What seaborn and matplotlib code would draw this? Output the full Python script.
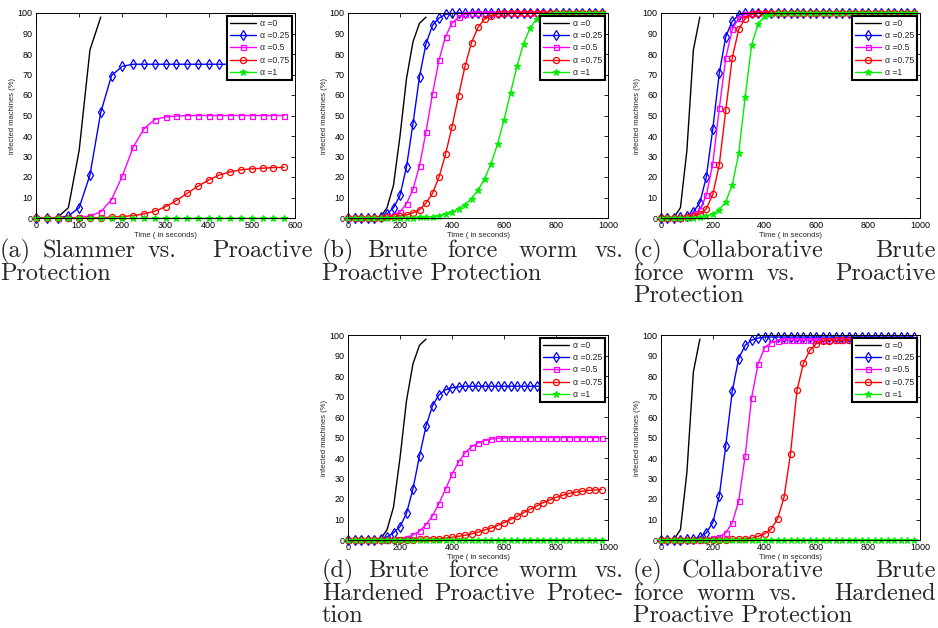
import matplotlib
matplotlib.use("Agg")
import matplotlib.pyplot as plt
import seaborn as sns

W, H = 938, 628

# sample times (seconds)
t_a = list(range(0, 600, 25))
t_full = list(range(0, 1000, 25))
t_black_fast = [0, 25, 50, 75, 100, 125, 150]
t_black_slow = [0, 25, 50, 75, 100, 125, 150, 175, 200, 225, 250, 275, 300]

black_fast = [0, 0, 0.3, 5, 33, 82, 98]
black_slow = [0, 0, 0, 0, 0, 0.5, 5, 16, 40, 68, 86, 95, 98]

# (a) Slammer vs. Proactive Protection
a_025 = [0, 0, 0, 1, 5, 21, 51.5, 69.5, 74, 75, 75, 75, 75, 75, 75, 75, 75, 75, 75, 75, 75, 75, 75, 75]
a_05 = [0, 0, 0, 0, 0.3, 1, 3, 9, 20.5, 34.5, 43.5, 48, 49.3, 49.7, 50, 50, 50, 50, 50, 50, 50, 50, 50, 50]
a_075 = [0, 0, 0, 0, 0, 0, 0.2, 0.4, 0.7, 1.2, 2, 3.3, 5.5, 8.5, 12, 15.5, 18.5, 21, 22.5, 23.5, 24, 24.3,
         24.6, 24.7]
a_1 = [0] * 24

# (b) Brute force worm vs. Proactive Protection
b_025 = [0, 0, 0, 0, 0, 0.5, 2, 5, 11, 25, 46, 69, 85, 94, 97.5, 99.3, 99.8, 100, 100, 100, 100, 100, 100,
         100, 100, 100, 100, 100, 100, 100, 100, 100, 100, 100, 100, 100, 100, 100, 100, 100]
b_05 = [0, 0, 0, 0, 0.1, 0.3, 0.8, 1.5, 3, 7, 14, 25.5, 42, 60.5, 77, 88.5, 95, 98, 99.3, 99.8, 100, 100,
        100, 100, 100, 100, 100, 100, 100, 100, 100, 100, 100, 100, 100, 100, 100, 100, 100, 100]
b_075 = [0, 0, 0, 0, 0.1, 0.2, 0.3, 0.5, 1, 1.5, 2.5, 4, 7.3, 12, 20, 31, 44.5, 59.5, 74, 85.5, 93, 97,
         98.7, 99.5, 99.8, 100, 100, 100, 100, 100, 100, 100, 100, 100, 100, 100, 100, 100, 100, 100]
b_1 = [0, 0, 0, 0, 0, 0, 0, 0.1, 0.1, 0.2, 0.2, 0.3, 0.5, 0.7, 1.2, 2, 3, 4.5, 6.5, 9.5, 13.5, 19, 26.5,
       36, 47.8, 61, 74, 85, 92.5, 97, 99, 99.7, 100, 100, 100, 100, 100, 100, 100, 100]

# (c) Collaborative brute force worm vs. Proactive Protection
c_025 = [0, 0, 0, 0.5, 1, 3, 7.5, 20, 43.5, 70.5, 88.5, 96, 99, 99.8, 100, 100, 100, 100, 100, 100, 100,
         100, 100, 100, 100, 100, 100, 100, 100, 100, 100, 100, 100, 100, 100, 100, 100, 100, 100, 100]
c_05 = [0, 0, 0, 0.2, 0.5, 2, 4, 11, 26.5, 53.5, 78, 92, 97.5, 99.3, 100, 100, 100, 100, 100, 100, 100,
        100, 100, 100, 100, 100, 100, 100, 100, 100, 100, 100, 100, 100, 100, 100, 100, 100, 100, 100]
c_075 = [0, 0, 0, 0.1, 0.3, 1, 2, 4.5, 11.5, 26, 52.5, 78, 92, 97.3, 99.3, 100, 100, 100, 100, 100, 100,
         100, 100, 100, 100, 100, 100, 100, 100, 100, 100, 100, 100, 100, 100, 100, 100, 100, 100, 100]
c_1 = [0, 0, 0, 0, 0.1, 0.2, 0.3, 1, 2, 4, 8, 16, 31.5, 59, 84.5, 94.5, 98.5, 99.5, 100, 100, 100, 100,
       100, 100, 100, 100, 100, 100, 100, 100, 100, 100, 100, 100, 100, 100, 100, 100, 100, 100]

# (d) Brute force worm vs. Hardened Proactive Protection
d_025 = [0, 0, 0, 0, 0.2, 0.5, 1.5, 3.5, 6.5, 13, 25, 41, 55.5, 65.5, 70.8, 73.3, 74.3, 74.7, 75, 75, 75,
         75, 75, 75, 75, 75, 75, 75, 75, 75, 75, 75, 75, 75, 75, 75, 75, 75, 75, 75]
d_05 = [0, 0, 0, 0, 0, 0.1, 0.2, 0.3, 0.5, 1.2, 2.5, 4.3, 7.5, 11.8, 17.8, 24.8, 32, 38, 42.5, 45.5, 47.3,
        48.5, 49.2, 49.6, 49.8, 50, 50, 50, 50, 50, 50, 50, 50, 50, 50, 50, 50, 50, 50, 50]
d_075 = [0, 0, 0, 0, 0, 0, 0.1, 0.1, 0.1, 0.2, 0.2, 0.3, 0.3, 0.5, 0.7, 1, 1.3, 1.8, 2.3, 3, 3.8, 4.8,
         5.8, 7, 8.5, 10, 11.5, 13.3, 15, 16.5, 18.2, 19.5, 20.8, 21.8, 22.7, 23.3, 23.8, 24.2, 24.4, 24.6]
d_1 = [0] * 40

# (e) Collaborative brute force worm vs. Hardened Proactive Protection
e_025 = [0, 0, 0, 0.1, 0.3, 0.5, 1.5, 3.5, 8.5, 21.5, 46, 72.5, 88.5, 95, 97.5, 98.5, 99, 99, 99, 99, 99,
         99, 99, 99, 99, 99, 99, 99, 99, 99, 99, 99, 99, 99, 99, 99, 99, 99, 99, 99]
e_05 = [0, 0, 0, 0, 0, 0.1, 0.2, 0.4, 0.8, 1.5, 3.5, 8.3, 19, 41, 69.5, 86, 93.8, 96.3, 97.2, 97.5, 97.5,
        97.5, 97.5, 97.5, 97.5, 97.5, 97.5, 97.5, 97.5, 97.5, 97.5, 97.5, 97.5, 97.5, 97.5, 97.5, 97.5,
        97.5, 97.5, 97.5]
e_075 = [0, 0, 0, 0, 0, 0, 0, 0.1, 0.1, 0.2, 0.2, 0.3, 0.4, 0.7, 1, 1.8, 3, 5.3, 10.3, 20.8, 42, 73, 86.3,
         92.5, 95.8, 97, 97.3, 97.5, 97.5, 97.5, 97.5, 97.5, 97.5, 97.5, 97.5, 97.5, 97.5, 97.5, 97.5, 97.5]
e_1 = [0] * 40

labels = ["\u03b1 =0", "\u03b1 =0.25", "\u03b1 =0.5", "\u03b1 =0.75", "\u03b1 =1"]
line_styles = {
    labels[0]: dict(color="black", marker=None, markersize=0, markerfacecolor="none"),
    labels[1]: dict(color="#0000ff", marker="d", markersize=5, markerfacecolor="none"),
    labels[2]: dict(color="#ff00ff", marker="s", markersize=3.6, markerfacecolor="none"),
    labels[3]: dict(color="#ff0000", marker="o", markersize=4.4, markerfacecolor="none"),
    labels[4]: dict(color="#00ee00", marker="*", markersize=5, markerfacecolor="#00ee00"),
}

panels = [
    ((36, 13, 295, 218), 600, range(0, 700, 100),
     [(t_black_fast, black_fast), (t_a, a_025), (t_a, a_05), (t_a, a_075), (t_a, a_1)]),
    ((348, 13, 608, 218), 1000, range(0, 1200, 200),
     [(t_black_slow, black_slow), (t_full, b_025), (t_full, b_05), (t_full, b_075), (t_full, b_1)]),
    ((661, 13, 920, 218), 1000, range(0, 1200, 200),
     [(t_black_fast, black_fast), (t_full, c_025), (t_full, c_05), (t_full, c_075), (t_full, c_1)]),
    ((348, 335, 608, 540), 1000, range(0, 1200, 200),
     [(t_black_slow, black_slow), (t_full, d_025), (t_full, d_05), (t_full, d_075), (t_full, d_1)]),
    ((661, 335, 920, 540), 1000, range(0, 1200, 200),
     [(t_black_fast, black_fast), (t_full, e_025), (t_full, e_05), (t_full, e_075), (t_full, e_1)]),
]

sns.set_style("white")
plt.rcParams["font.family"] = ["Liberation Sans", "DejaVu Sans"]

fig = plt.figure(figsize=(W / 100, H / 100), dpi=100)

for (l, t, r, b), xmax, xticks, series in panels:
    ax = fig.add_axes([l / W, 1 - b / H, (r - l) / W, (b - t) / H])
    for label, (tt, vals) in zip(labels, series):
        st = line_styles[label]
        sns.lineplot(x=tt, y=vals, ax=ax, label=label, estimator=None, sort=False,
                     color=st["color"], marker=st["marker"], markersize=st["markersize"],
                     markerfacecolor=st["markerfacecolor"], markeredgecolor=st["color"],
                     markeredgewidth=0.9, linewidth=1.0, clip_on=False)
    ax.set_xlim(0, xmax)
    ax.set_ylim(0, 100)
    ax.set_xticks(list(xticks))
    ax.set_yticks(list(range(0, 110, 10)))
    ax.tick_params(direction="in", top=True, right=True, length=3, width=0.6,
                   labelsize=6.5, pad=2.5, colors="black")
    for sp in ax.spines.values():
        sp.set_color("black")
        sp.set_linewidth(0.7)
    ax.set_xlabel("Time ( in seconds)", fontsize=5.5, labelpad=1)
    ax.set_ylabel("infected machines (%)", fontsize=5.5, labelpad=1)
    leg = ax.legend(loc="upper right", fontsize=6.2, handlelength=3.0, frameon=True, fancybox=False,
                    edgecolor="black", framealpha=1, borderaxespad=0.3, labelspacing=0.4,
                    borderpad=0.35, handletextpad=0.5)
    leg.get_frame().set_linewidth(1.5)
    leg.set_zorder(10)

# sub-captions (justified like the LaTeX original)
CAP_FS = 17.5
renderer = fig.canvas.get_renderer()
captions = [
    (0, 313, 257, [(["(a)", "Slammer", "vs.", "Proactive"], [0.15, 0.15, 1]),
                   (["Protection"], None)]),
    (322, 623, 257, [(["(b)", "Brute", "force", "worm", "vs."], [0.4, 1, 1, 0.7]),
                     (["Proactive", "Protection"], None)]),
    (633, 936, 257, [(["(c)", "Collaborative", "Brute"], [0.25, 1]),
                     (["force", "worm", "vs.", "Proactive"], [0.15, 0.15, 1]),
                     (["Protection"], None)]),
    (322, 623, 577, [(["(d)", "Brute", "force", "worm", "vs."], [0.5, 1, 1, 0.7]),
                     (["Hardened", "Proactive", "Protec-"], [1, 1]),
                     (["tion"], None)]),
    (633, 936, 577, [(["(e)", "Collaborative", "Brute"], [0.25, 1]),
                     (["force", "worm", "vs.", "Hardened"], [0.2, 0.2, 1]),
                     (["Proactive", "Protection"], None)]),
]
LINE_STEP = 22.5
space_px = CAP_FS * 100 / 72 * 0.3
for x0, x1, y0, lines in captions:
    for i, (words, weights) in enumerate(lines):
        yf = 1 - (y0 + i * LINE_STEP) / H
        if weights is None:
            fig.text(x0 / W, yf, " ".join(words), fontfamily="cmr10", fontsize=CAP_FS,
                     ha="left", va="baseline")
            continue
        texts = [fig.text(0, yf, w, fontfamily="cmr10", fontsize=CAP_FS, ha="left", va="baseline")
                 for w in words]
        widths = [tx.get_window_extent(renderer).width for tx in texts]
        slack = (x1 - x0) - sum(widths) - space_px * len(weights)
        s = max(slack, 0) / sum(weights)
        x = x0
        for j, tx in enumerate(texts):
            tx.set_x(x / W)
            if j < len(weights):
                x += widths[j] + space_px + weights[j] * s

fig.savefig("out.png", dpi=100)
